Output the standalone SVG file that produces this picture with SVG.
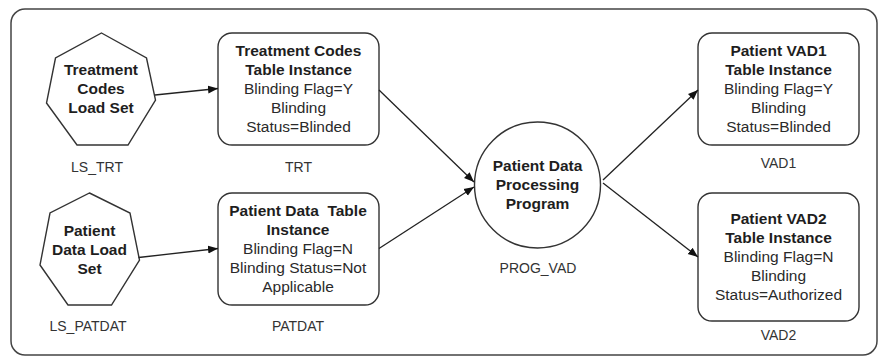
<svg xmlns="http://www.w3.org/2000/svg" width="881" height="358" viewBox="0 0 881 358">
<style>
.frame{fill:#fff;stroke:#444;stroke-width:1.5}
.shape{fill:#fff;stroke:#333;stroke-width:1.4}
text{font-family:"Liberation Sans",Arial,sans-serif;font-size:15.5px;text-anchor:middle;fill:#2a2a2a}
.b{font-weight:bold;fill:#1e1e1e}
.lbl{font-size:14px;fill:#333}
.conn{stroke:#222;stroke-width:1.3;fill:none;marker-end:url(#ah)}
</style>
<defs>
<marker id="ah" viewBox="0 0 10 10" refX="10" refY="5" markerWidth="10" markerHeight="10" markerUnits="userSpaceOnUse" orient="auto">
<path d="M0,1 L10,5 L0,9 Z" fill="#111"/>
</marker>
</defs>
<rect class="frame" x="11" y="9" width="866" height="346" rx="14"/>

<g id="LS_TRT">
<polygon class="shape" points="101.5,33 146.5,58 155.5,100 128,145 77,145 46.5,103 55.5,58"/>
<text class="b" x="101" y="74.5">Treatment</text>
<text class="b" x="101" y="93.5">Codes</text>
<text class="b" x="101" y="112.5">Load Set</text>
<text class="lbl" x="97" y="172">LS_TRT</text>
</g>

<g id="LS_PATDAT">
<polygon class="shape" points="89.5,193 130,213 139.5,260 111.5,305 68,305 40,265 50,213"/>
<text class="b" x="89.5" y="235.5">Patient</text>
<text class="b" x="89.5" y="254.5">Data Load</text>
<text class="b" x="89.5" y="273.5">Set</text>
<text class="lbl" x="88" y="331">LS_PATDAT</text>
</g>

<g id="TRT">
<rect class="shape" x="218" y="33" width="161" height="112" rx="14"/>
<text class="b" x="298.5" y="55.5">Treatment Codes</text>
<text class="b" x="298.5" y="74.5">Table Instance</text>
<text x="298.5" y="93.5">Blinding Flag=Y</text>
<text x="298.5" y="112.5">Blinding</text>
<text x="298.5" y="131.5">Status=Blinded</text>
<text class="lbl" x="298.5" y="172">TRT</text>
</g>

<g id="PATDAT">
<rect class="shape" x="218" y="193" width="161" height="112" rx="14"/>
<text class="b" x="298" y="215.5" xml:space="preserve">Patient Data  Table</text>
<text class="b" x="298" y="234.5">Instance</text>
<text x="298" y="253.5">Blinding Flag=N</text>
<text x="298" y="272.5">Blinding Status=Not</text>
<text x="298" y="291.5">Applicable</text>
<text class="lbl" x="298" y="331">PATDAT</text>
</g>

<g id="PROG_VAD">
<circle class="shape" cx="537.5" cy="185" r="63"/>
<text class="b" x="537.5" y="170.5">Patient Data</text>
<text class="b" x="537.5" y="189.5">Processing</text>
<text class="b" x="537.5" y="208.5">Program</text>
<text class="lbl" x="538" y="273">PROG_VAD</text>
</g>

<g id="VAD1">
<rect class="shape" x="698" y="33" width="161" height="112" rx="14"/>
<text class="b" x="778.5" y="55.5">Patient VAD1</text>
<text class="b" x="778.5" y="74.5">Table Instance</text>
<text x="778.5" y="93.5">Blinding Flag=Y</text>
<text x="778.5" y="112.5">Blinding</text>
<text x="778.5" y="131.5">Status=Blinded</text>
<text class="lbl" x="778.5" y="168">VAD1</text>
</g>

<g id="VAD2">
<rect class="shape" x="698" y="193" width="161" height="128" rx="14"/>
<text class="b" x="778.5" y="223.5">Patient VAD2</text>
<text class="b" x="778.5" y="242.5">Table Instance</text>
<text x="778.5" y="261.5">Blinding Flag=N</text>
<text x="778.5" y="280.5">Blinding</text>
<text x="778.5" y="299.5">Status=Authorized</text>
<text class="lbl" x="778.5" y="340">VAD2</text>
</g>

<g id="connectors">
<line class="conn" x1="155" y1="95" x2="218" y2="88.5"/>
<line class="conn" x1="138.5" y1="257.5" x2="218" y2="248.5"/>
<line class="conn" x1="379" y1="90" x2="474" y2="182"/>
<line class="conn" x1="379" y1="248.5" x2="474" y2="187"/>
<line class="conn" x1="603" y1="180" x2="698" y2="90"/>
<line class="conn" x1="603" y1="183" x2="698" y2="257"/>
</g>
</svg>
